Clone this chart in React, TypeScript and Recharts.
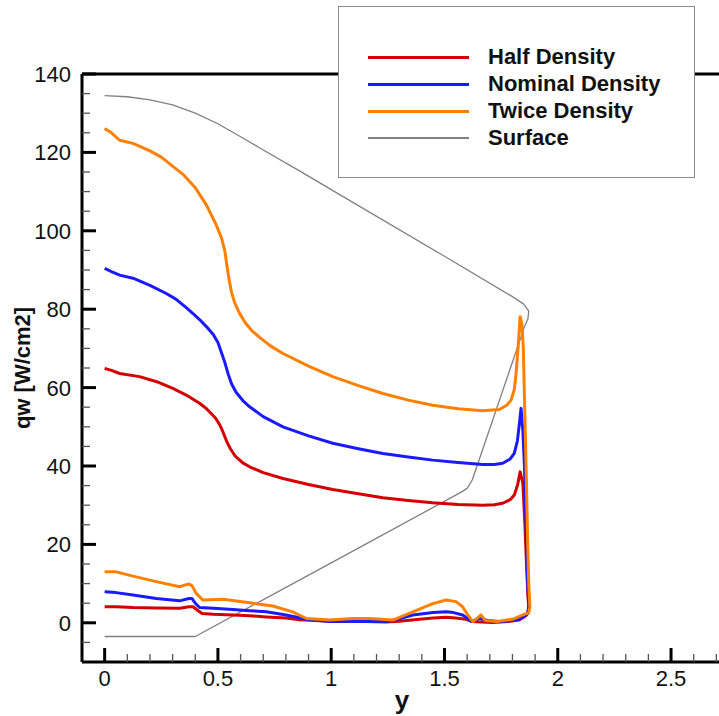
import React from "react";
import {
  LineChart,
  Line,
  XAxis,
  YAxis,
  Legend,
  Label,
  ReferenceLine,
} from "recharts";

// [y, qw] pairs (windward side, wall, leeward side)
const halfDensity = [
  [0, 64.9], [0.03, 64.4], [0.066, 63.6], [0.154, 62.8], [0.23, 61.5], [0.301, 59.8],
  [0.36, 58.1], [0.419, 56], [0.45, 54.6], [0.49, 52.2], [0.507, 50.6], [0.52, 49],
  [0.54, 46.1], [0.555, 44.4], [0.575, 42.6], [0.61, 40.8], [0.64, 39.8], [0.7, 38.3],
  [0.787, 36.8], [0.9, 35.3], [1.007, 34], [1.12, 32.9], [1.228, 31.9], [1.34, 31.2],
  [1.448, 30.6], [1.56, 30.2], [1.669, 30], [1.72, 30.1], [1.757, 30.5], [1.79, 31.4],
  [1.808, 32.6], [1.822, 35], [1.834, 38.5], [1.846, 35.6], [1.855, 25], [1.862, 15],
  [1.868, 7], [1.873, 3.5], [1.86, 1.8], [1.83, 0.7], [1.78, 0.3], [1.713, 0.1],
  [1.66, 0.2], [1.625, 0.3], [1.595, 0.9], [1.55, 1.2], [1.507, 1.4], [1.45, 1.2],
  [1.39, 0.9], [1.3, 0.4], [1.243, 0.2], [1.15, 0.3], [1.0, 0.4], [0.93, 0.6],
  [0.86, 0.8], [0.8, 1.2], [0.713, 1.5], [0.64, 1.8], [0.566, 2], [0.48, 2.2],
  [0.43, 2.4], [0.41, 3.2], [0.39, 4.1], [0.372, 4.1], [0.331, 3.7], [0.228, 3.8],
  [0.125, 3.9], [0.05, 4.1], [0, 4.1],
];

const nominalDensity = [
  [0, 90.4], [0.03, 89.6], [0.066, 88.7], [0.125, 87.9], [0.2, 86.1], [0.272, 84],
  [0.316, 82.5], [0.36, 80.4], [0.39, 78.9], [0.42, 77.3], [0.45, 75.5], [0.48, 73.5],
  [0.5, 71.5], [0.515, 69], [0.53, 66.5], [0.545, 63.5], [0.56, 61], [0.58, 58.8],
  [0.61, 56.7], [0.64, 55.1], [0.7, 52.6], [0.787, 50], [0.9, 47.7], [1.007, 45.8],
  [1.12, 44.4], [1.228, 43.2], [1.34, 42.3], [1.448, 41.5], [1.56, 40.9], [1.669, 40.4],
  [1.72, 40.4], [1.757, 40.7], [1.79, 41.8], [1.808, 43.2], [1.822, 46.5], [1.831, 51],
  [1.838, 54.7], [1.846, 49], [1.853, 40], [1.86, 25], [1.866, 12], [1.872, 4.5],
  [1.868, 2.4], [1.83, 0.9], [1.79, 0.5], [1.757, 0.3], [1.7, 0.5], [1.654, 1.1],
  [1.63, 0.6], [1.617, 0.4], [1.6, 1.2], [1.58, 2], [1.54, 2.6], [1.507, 2.8],
  [1.45, 2.6], [1.36, 2], [1.3, 1], [1.243, 0.3], [1.1, 0.3], [0.993, 0.3],
  [0.89, 0.9], [0.801, 2], [0.713, 2.8], [0.64, 3.1], [0.566, 3.4], [0.48, 3.7],
  [0.419, 3.9], [0.4, 5], [0.385, 6.2], [0.372, 6.2], [0.331, 5.6], [0.228, 6.2],
  [0.125, 7.1], [0.05, 7.7], [0, 7.9],
];

const twiceDensity = [
  [0, 126.1], [0.03, 125], [0.066, 123.1], [0.125, 122.3], [0.2, 120.4], [0.25, 118.8],
  [0.3, 116.5], [0.35, 114.2], [0.4, 111], [0.45, 106.5], [0.49, 101.8], [0.515, 98.3],
  [0.53, 95], [0.54, 91], [0.55, 87.3], [0.56, 84.3], [0.575, 81.5], [0.595, 79],
  [0.62, 76.6], [0.65, 74.5], [0.684, 72.8], [0.73, 70.7], [0.787, 68.7], [0.9, 65.5],
  [1.007, 62.8], [1.12, 60.5], [1.228, 58.5], [1.34, 56.8], [1.448, 55.5], [1.56, 54.6],
  [1.669, 54.1], [1.742, 54.4], [1.775, 55.5], [1.794, 56.8], [1.808, 59.5], [1.816, 63.6],
  [1.826, 71], [1.834, 78.1], [1.842, 76], [1.848, 70], [1.856, 50], [1.862, 35],
  [1.867, 21.1], [1.872, 10], [1.877, 4], [1.872, 2.6], [1.846, 2], [1.8, 0.9],
  [1.728, 0.3], [1.68, 0.6], [1.661, 2], [1.645, 1.2], [1.625, 0.3], [1.603, 2],
  [1.58, 4.1], [1.551, 5.4], [1.507, 5.8], [1.449, 4.9], [1.36, 2.8], [1.272, 0.7],
  [1.169, 1.1], [1.095, 1.1], [0.993, 0.7], [0.89, 1.1], [0.83, 2.8], [0.742, 4.3],
  [0.64, 5.1], [0.522, 6], [0.434, 5.8], [0.404, 7.5], [0.385, 9.5], [0.372, 9.9],
  [0.353, 9.6], [0.331, 9.2], [0.228, 10.5], [0.125, 11.9], [0.051, 13], [0, 13],
];

const surface = [
  [0, 134.5], [0.1, 134.2], [0.2, 133.4], [0.3, 132.1], [0.4, 130], [0.5, 127.3],
  [0.6, 124], [0.7, 120.6], [0.86, 115.3], [1.0, 110.5], [1.5, 93.5], [1.8, 83.2],
  [1.85, 81.3], [1.872, 79.5], [1.868, 77.5], [1.853, 75.5], [1.623, 36.5], [1.6, 34.3],
  [1.57, 33.2], [1.0, 15.3], [0.4, -3.5], [0, -3.5],
];

const xMajorTicks = [0, 0.5, 1, 1.5, 2, 2.5];
const xTicks = [
  0, 0.1, 0.2, 0.3, 0.4, 0.5, 0.6, 0.7, 0.8, 0.9, 1, 1.1, 1.2, 1.3, 1.4, 1.5, 1.6, 1.7,
  1.8, 1.9, 2, 2.1, 2.2, 2.3, 2.4, 2.5, 2.6, 2.7,
];
const yMajorTicks = [0, 20, 40, 60, 80, 100, 120, 140];
const yTicks = [
  -5, 0, 5, 10, 15, 20, 25, 30, 35, 40, 45, 50, 55, 60, 65, 70, 75, 80, 85, 90, 95, 100,
  105, 110, 115, 120, 125, 130, 135, 140,
];

const series = [
  { name: "Half Density", points: halfDensity, color: "#d40000", width: 3 },
  { name: "Nominal Density", points: nominalDensity, color: "#1a1aff", width: 3 },
  { name: "Twice Density", points: twiceDensity, color: "#ff8000", width: 3 },
  { name: "Surface", points: surface, color: "#808080", width: 1.3 },
];

const FONT = "'Liberation Sans', Arial, Helvetica, sans-serif";

const toRows = (pts: number[][]) => pts.map(([x, v]) => ({ x, v }));

const XTick = (props: any) => {
  const { x, y, payload } = props;
  const major = xMajorTicks.includes(payload.value);
  return (
    <g>
      <line
        x1={x}
        y1={y}
        x2={x}
        y2={y - (major ? 14 : 8)}
        stroke={major ? "#000" : "#555"}
        strokeWidth={major ? 3 : 1.3}
      />
      {major && (
        <text x={x} y={y + 24} textAnchor="middle" fontSize={22} fontFamily={FONT} fill="#111">
          {payload.value}
        </text>
      )}
    </g>
  );
};

const YTick = (props: any) => {
  const { x, y, payload } = props;
  const major = yMajorTicks.includes(payload.value);
  return (
    <g>
      <line
        x1={x}
        y1={y}
        x2={x + (major ? 14 : 8)}
        y2={y}
        stroke={major ? "#000" : "#555"}
        strokeWidth={major ? 3 : 1.3}
      />
      {major && (
        <text x={x - 11} y={y + 8} textAnchor="end" fontSize={22} fontFamily={FONT} fill="#111">
          {payload.value}
        </text>
      )}
    </g>
  );
};

const LegendBox = () => (
  <div
    style={{
      position: "relative",
      width: 357,
      height: 172,
      boxSizing: "border-box",
      border: "1.5px solid #8a8a8a",
      background: "#fff",
      fontFamily: FONT,
    }}
  >
    {series.map((s, i) => (
      <div
        key={s.name}
        style={{
          position: "absolute",
          left: 0,
          top: 37 + i * 27,
          height: 26,
          display: "flex",
          alignItems: "center",
        }}
      >
        <span
          style={{
            display: "inline-block",
            marginLeft: 29,
            width: 101,
            height: s.width,
            background: s.color,
          }}
        />
        <span
          style={{
            marginLeft: 19,
            fontSize: 22,
            fontWeight: "bold",
            color: "#111",
            lineHeight: "26px",
          }}
        >
          {s.name}
        </span>
      </div>
    ))}
  </div>
);

export default function App() {
  return (
    <div
      style={{
        position: "absolute",
        left: 0,
        top: 0,
        width: 719,
        height: 716,
        overflow: "hidden",
        background: "#fff",
      }}
    >
      <LineChart width={760} height={716} margin={{ top: 74, right: 21, left: 0, bottom: 0 }}>
        <XAxis
          dataKey="x"
          type="number"
          domain={[-0.1, 2.8]}
          ticks={xTicks}
          interval={0}
          allowDataOverflow
          height={54}
          tickSize={0}
          tickMargin={0}
          tickLine={false}
          tick={<XTick />}
          axisLine={{ stroke: "#000", strokeWidth: 3 }}
        >
          <Label
            content={(p: any) => (
              <text
                x={p.viewBox.x + 320}
                y={p.viewBox.y + 47}
                textAnchor="middle"
                fontSize={26}
                fontWeight="bold"
                fontFamily={FONT}
                fill="#111"
              >
                y
              </text>
            )}
          />
        </XAxis>
        <YAxis
          dataKey="v"
          type="number"
          domain={[-10, 140]}
          ticks={yTicks}
          interval={0}
          allowDataOverflow
          width={82}
          tickSize={0}
          tickMargin={0}
          tickLine={false}
          tick={<YTick />}
          axisLine={{ stroke: "#000", strokeWidth: 3 }}
        >
          <Label
            content={(p: any) => {
              const cx = p.viewBox.x + 22;
              const cy = p.viewBox.y + p.viewBox.height / 2;
              return (
                <text
                  x={cx}
                  y={cy}
                  transform={`rotate(-90 ${cx} ${cy})`}
                  textAnchor="middle"
                  dominantBaseline="central"
                  fontSize={22}
                  fontWeight="bold"
                  fontFamily={FONT}
                  fill="#111"
                >
                  qw [W/cm2]
                </text>
              );
            }}
          />
        </YAxis>
        <ReferenceLine y={140} stroke="#000" strokeWidth={3} />
        {[series[3], series[0], series[1], series[2]].map((s) => (
          <Line
            key={s.name}
            data={toRows(s.points)}
            dataKey="v"
            name={s.name}
            type="linear"
            stroke={s.color}
            strokeWidth={s.width}
            strokeLinejoin="round"
            dot={false}
            activeDot={false}
            isAnimationActive={false}
          />
        ))}
        <Legend
          layout="vertical"
          align="center"
          verticalAlign="middle"
          content={() => <LegendBox />}
          wrapperStyle={{ position: "absolute", left: 338, top: 6, width: 357, height: 172 }}
        />
      </LineChart>
    </div>
  );
}
